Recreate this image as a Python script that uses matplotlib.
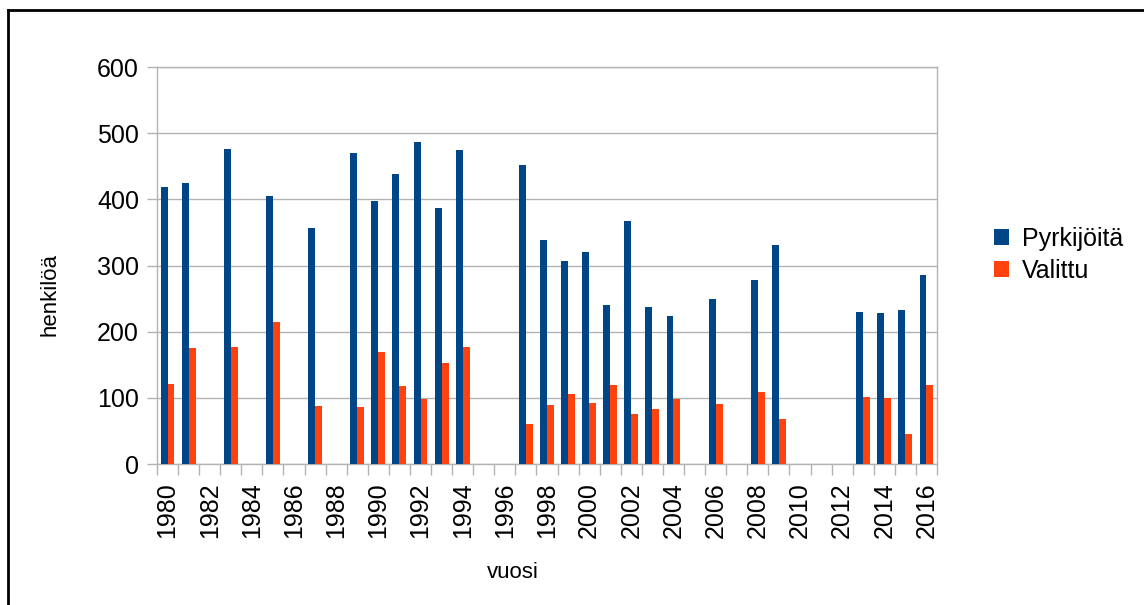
import matplotlib.pyplot as plt
import numpy as np

years = list(range(1980, 2017))
# None = no data that year
pyrkijoita = [419, 425, None, 476, None, 405, None, 357, None, 470, 398, 438, 486, 387, 474,
              None, None, 452, 338, 307, 321, 241, 367, 237, 223, None, 250, None, 278, 331,
              None, None, None, 229, 228, 232, 286]
valittu = [121, 176, None, 177, None, 214, None, 87, None, 86, 169, 118, 98, 153, 177,
           None, None, 60, 89, 106, 92, 120, 75, 83, 98, None, 91, None, 109, 68,
           None, None, None, 102, 100, 46, 119]

plt.rcParams['font.family'] = ['Liberation Sans', 'DejaVu Sans']

fig = plt.figure(figsize=(11.44, 6.05), dpi=100)
ax = fig.add_axes([157 / 1144, 1 - 464 / 605, 780 / 1144, 397 / 605])

x = np.arange(len(years))
w = 0.33
p = np.array([np.nan if v is None else v for v in pyrkijoita], dtype=float)
v = np.array([np.nan if q is None else q for q in valittu], dtype=float)
mp = ~np.isnan(p)
mv = ~np.isnan(v)
ax.bar(x[mp] - w / 2, p[mp], w, color='#004586', label='Pyrkijöitä', zorder=3)
ax.bar(x[mv] + w / 2, v[mv], w, color='#ff420e', label='Valittu', zorder=3)

ax.set_xlim(-0.5, len(years) - 0.5)
ax.set_ylim(0, 600)
ax.set_yticks(range(0, 601, 100))
ax.yaxis.grid(True, color='#b3b3b3', linewidth=1, zorder=0)
ax.set_xticks(x[::2])
ax.set_xticklabels([str(y) for y in years[::2]], rotation=90)
ax.set_xticks(np.arange(-0.5, len(years), 1), minor=True)
ax.tick_params(axis='x', which='major', length=0, pad=13, labelsize=18)
ax.tick_params(axis='x', which='minor', length=8, color='#b3b3b3', width=1)
ax.tick_params(axis='y', length=7, color='#b3b3b3', width=1, labelsize=18, pad=6)
for s in ax.spines.values():
    s.set_color('#b3b3b3')
    s.set_linewidth(1)

fig.text(513 / 1144, 1 - 573 / 605, 'vuosi', ha='center', va='center', fontsize=16)
fig.text(50 / 1144, 1 - 295 / 605, 'henkilöä', ha='center', va='center', rotation=90, fontsize=16)

leg = fig.legend(loc='center left', bbox_to_anchor=(994 / 1144, 1 - 255 / 605), frameon=False,
                 fontsize=18, handlelength=0.6, handleheight=0.6, handletextpad=0.5,
                 labelspacing=0.3, borderaxespad=0, borderpad=0)

# outer frame (top and left edges visible)
fig.add_artist(plt.Line2D([8 / 1144, 8 / 1144], [0, 1 - 10 / 605], color='black', linewidth=2,
                          transform=fig.transFigure))
fig.add_artist(plt.Line2D([8 / 1144, 1], [1 - 10 / 605, 1 - 10 / 605], color='black', linewidth=2,
                          transform=fig.transFigure))

fig.savefig('out.png', dpi=100)
